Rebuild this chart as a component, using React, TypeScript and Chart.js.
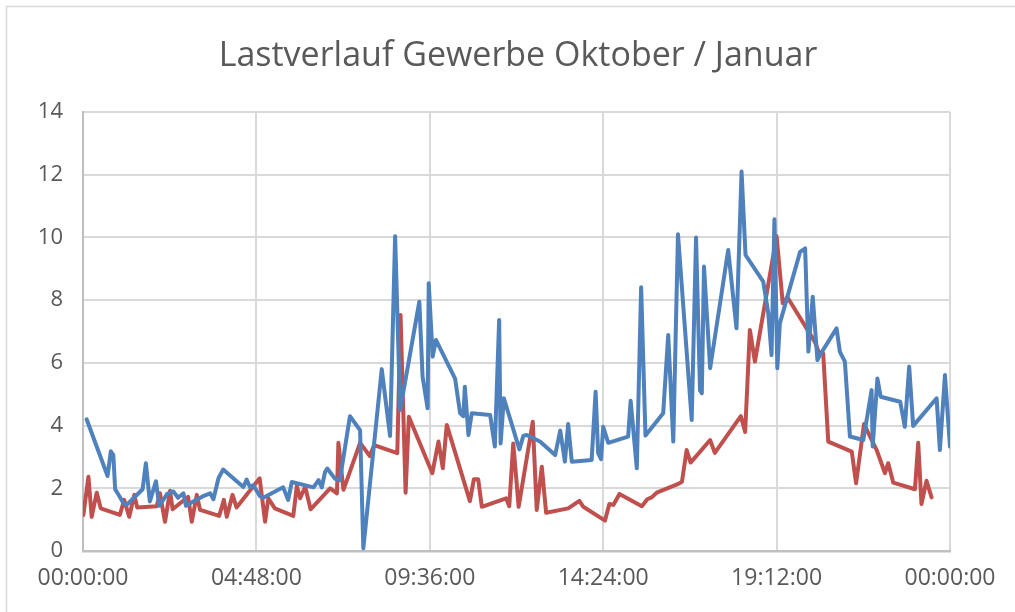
import React, { useEffect, useRef } from "react";
import { Chart, registerables } from "chart.js";

Chart.register(...registerables);

const TITLE = "Lastverlauf Gewerbe Oktober / Januar";

// x in hours of the day, y in kW
const blueHours = [
  0.1, 0.68, 0.77, 0.84, 0.89, 1.0, 1.12, 1.21, 1.65, 1.74, 1.85, 2.02, 2.11, 2.33, 2.5, 2.63, 2.78, 2.85,
  3.05, 3.31, 3.52, 3.61, 3.75, 3.88, 4.44, 4.53, 4.62, 4.71, 4.9, 4.99, 5.54, 5.68, 5.78, 6.38, 6.52, 6.61,
  6.7, 6.76, 6.98, 7.11, 7.39, 7.67, 7.76, 8.27, 8.5, 8.64, 8.78, 9.31, 9.4, 9.54, 9.57, 9.68, 9.77, 10.3,
  10.44, 10.53, 10.57, 10.67, 10.76, 11.27, 11.4, 11.52, 11.56, 11.65, 12.08, 12.19, 12.28, 12.65, 13.07,
  13.21, 13.34, 13.43, 13.53, 14.08, 14.19, 14.26, 14.34, 14.4, 14.54, 15.09, 15.16, 15.33, 15.45, 15.57,
  16.06, 16.2, 16.34, 16.47, 16.85, 16.97, 17.08, 17.13, 17.19, 17.36, 17.86, 18.09, 18.23, 18.34, 18.83,
  18.97, 19.06, 19.14, 19.22, 19.29, 19.85, 19.99, 20.08, 20.2, 20.33, 20.4, 20.86, 20.95, 21.09, 21.23,
  21.6, 21.83, 21.86, 21.99, 22.08, 22.62, 22.75, 22.87, 22.98, 23.63, 23.72, 23.86, 24.0,
];
const blueValues = [
  4.2, 2.39, 3.18, 3.06, 1.97, 1.76, 1.52, 1.47, 1.97, 2.8, 1.58, 2.22, 1.44, 1.82, 1.9, 1.7, 1.84, 1.44,
  1.58, 1.74, 1.84, 1.65, 2.32, 2.6, 2.04, 2.28, 2.04, 2.1, 1.75, 1.7, 2.03, 1.63, 2.2, 2.03, 2.26, 2.03,
  2.52, 2.63, 2.3, 2.26, 4.3, 3.85, 0.09, 5.8, 3.67, 10.04, 4.5, 7.95, 5.56, 4.55, 8.54, 6.2, 6.73, 5.5,
  4.39, 4.3, 5.24, 3.7, 4.39, 4.34, 3.33, 7.37, 3.43, 4.87, 3.24, 3.67, 3.7, 3.49, 3.06,
  3.84, 2.85, 4.05, 2.85, 2.9, 5.08, 3.12, 2.93, 3.96, 3.45, 3.65, 4.79, 2.64, 8.41, 3.68,
  4.39, 6.89, 3.49, 10.1, 4.18, 10.0, 5.13, 5.03, 9.07, 5.83, 9.6, 7.1, 12.1, 9.44, 8.59,
  7.58, 6.25, 10.58, 5.83, 7.26, 9.54, 9.65, 6.36, 8.11, 6.09, 6.25, 7.1, 6.36, 6.04, 3.65,
  3.54, 5.13, 3.33, 5.5, 4.92, 4.76, 3.96, 5.88, 3.99, 4.87, 3.22, 5.61, 3.33,
];

const redHours = [
  0.01, 0.15, 0.24, 0.38, 0.49, 1.02, 1.14, 1.28, 1.42, 1.5, 2.04, 2.13, 2.27, 2.41, 2.48, 2.91, 3.01, 3.15,
  3.24, 3.77, 3.9, 3.98, 4.14, 4.25, 4.89, 5.04, 5.13, 5.31, 5.82, 5.92, 6.01, 6.15, 6.3, 6.84, 7.03, 7.07,
  7.21, 7.67, 7.94, 8.06, 8.7, 8.79, 8.93, 9.02, 9.67, 9.84, 9.96, 10.07, 10.71, 10.82, 10.94, 11.04, 11.71,
  11.8, 11.91, 12.06, 12.45, 12.56, 12.7, 12.82, 13.43, 13.74, 13.85, 14.45, 14.57, 14.68, 14.85, 15.47,
  15.62, 15.74, 15.88, 16.48, 16.58, 16.71, 16.82, 17.36, 17.49, 18.21, 18.33, 18.46, 18.6, 19.2, 19.37,
  19.5, 20.26, 20.36, 20.49, 20.63, 21.28, 21.4, 21.62, 21.97, 22.2, 22.29, 22.43, 23.03, 23.12, 23.21,
  23.35, 23.49,
];
const redValues = [
  1.15, 2.37, 1.09, 1.86, 1.36, 1.15, 1.63, 1.09, 1.79, 1.39, 1.43, 1.84, 0.93, 1.92, 1.33, 1.73, 0.93, 1.79,
  1.31, 1.12, 1.63, 1.09, 1.79, 1.39, 2.32, 0.93, 1.68, 1.36, 1.12, 2.07, 1.68, 2.05, 1.33, 2.0, 1.84, 3.45,
  1.95, 3.45, 3.03, 3.38, 3.12, 7.53, 1.86, 4.28, 2.48, 3.49, 2.64, 4.02, 1.59, 2.29, 2.29, 1.41, 1.68,
  1.43, 3.43, 1.41, 4.12, 1.31, 2.69, 1.22, 1.36, 1.6, 1.41, 0.97, 1.5, 1.47, 1.82, 1.43,
  1.65, 1.71, 1.86, 2.14, 2.21, 3.22, 2.82, 3.54, 3.13, 4.3, 3.8, 7.05, 6.04, 10.04, 7.9,
  8.09, 6.67, 6.36, 6.3, 3.49, 3.17, 2.16, 4.05, 3.22, 2.48, 2.8, 2.18, 1.97, 3.45, 1.5,
  2.24, 1.71,
];

const xTicks = [0, 4.8, 9.6, 14.4, 19.2, 24];
const yMin = 0;
const yMax = 14;
const yStep = 2;

const pad2 = (n: number) => String(n).padStart(2, "0");
const fmtTime = (h: number) => {
  const m = Math.round(h * 60) % 1440;
  return `${pad2(Math.floor(m / 60))}:${pad2(m % 60)}:00`;
};

const TEXT = "#595959";
const FONT = "'Open Sans', 'DejaVu Sans', sans-serif";

export default function App() {
  const ref = useRef<HTMLCanvasElement | null>(null);

  useEffect(() => {
    document.body.style.margin = "0";
    if (!ref.current) return;

    const frame = {
      id: "frame",
      beforeDraw(chart: any) {
        const { ctx, width, height } = chart;
        ctx.save();
        ctx.fillStyle = "#ffffff";
        ctx.fillRect(0, 0, width, height);
        ctx.strokeStyle = "#d9d9d9";
        ctx.lineWidth = 1.5;
        ctx.strokeRect(6.5, 6.5, width + 20, height + 20);
        ctx.restore();
      },
      afterDraw(chart: any) {
        const { ctx } = chart;
        ctx.save();
        ctx.fillStyle = TEXT;
        ctx.font = `34px ${FONT}`;
        ctx.textAlign = "center";
        ctx.textBaseline = "middle";
        ctx.fillText(TITLE, 518, 56);
        ctx.restore();
      },
    };

    const chart = new Chart(ref.current, {
      type: "line",
      data: {
        datasets: [
          {
            label: "Oktober",
            data: blueHours.map((x, i) => ({ x, y: blueValues[i] })),
            borderColor: "#4f81bd",
            backgroundColor: "#4f81bd",
            borderWidth: 4,
            pointRadius: 0,
            tension: 0,
            borderJoinStyle: "round",
            borderCapStyle: "round",
          },
          {
            label: "Januar",
            data: redHours.map((x, i) => ({ x, y: redValues[i] })),
            borderColor: "#c0504d",
            backgroundColor: "#c0504d",
            borderWidth: 4,
            pointRadius: 0,
            tension: 0,
            borderJoinStyle: "round",
            borderCapStyle: "round",
          },
        ],
      },
      options: {
        animation: false,
        responsive: false,
        layout: { padding: { top: 112, right: 65, left: 0, bottom: 0 } },
        plugins: {
          legend: { display: false },
          title: { display: false },
          tooltip: { enabled: false },
        },
        scales: {
          x: {
            type: "linear",
            min: 0,
            max: 24,
            afterBuildTicks: (scale: any) => {
              scale.ticks = xTicks.map((v) => ({ value: v }));
            },
            afterFit: (scale: any) => {
              scale.height = 61;
            },
            grid: { color: "#d9d9d9", lineWidth: 2, drawTicks: false },
            border: { color: "#bfbfbf", width: 2.5 },
            ticks: {
              color: TEXT,
              font: { family: FONT, size: 23 },
              padding: 14,
              maxRotation: 0,
              autoSkip: false,
              callback: (v: any) => fmtTime(Number(v)),
            },
          },
          y: {
            type: "linear",
            min: yMin,
            max: yMax,
            afterFit: (scale: any) => {
              scale.width = 83;
            },
            grid: { color: "#d9d9d9", lineWidth: 2, drawTicks: false },
            border: { color: "#bfbfbf", width: 2 },
            ticks: {
              stepSize: yStep,
              color: TEXT,
              font: { family: FONT, size: 22 },
              padding: 20,
            },
          },
        },
      },
      plugins: [frame],
    });

    return () => chart.destroy();
  }, []);

  return (
    <div style={{ width: 1015, height: 612, background: "#fff" }}>
      <canvas ref={ref} width={1015} height={612} style={{ display: "block" }} />
    </div>
  );
}
